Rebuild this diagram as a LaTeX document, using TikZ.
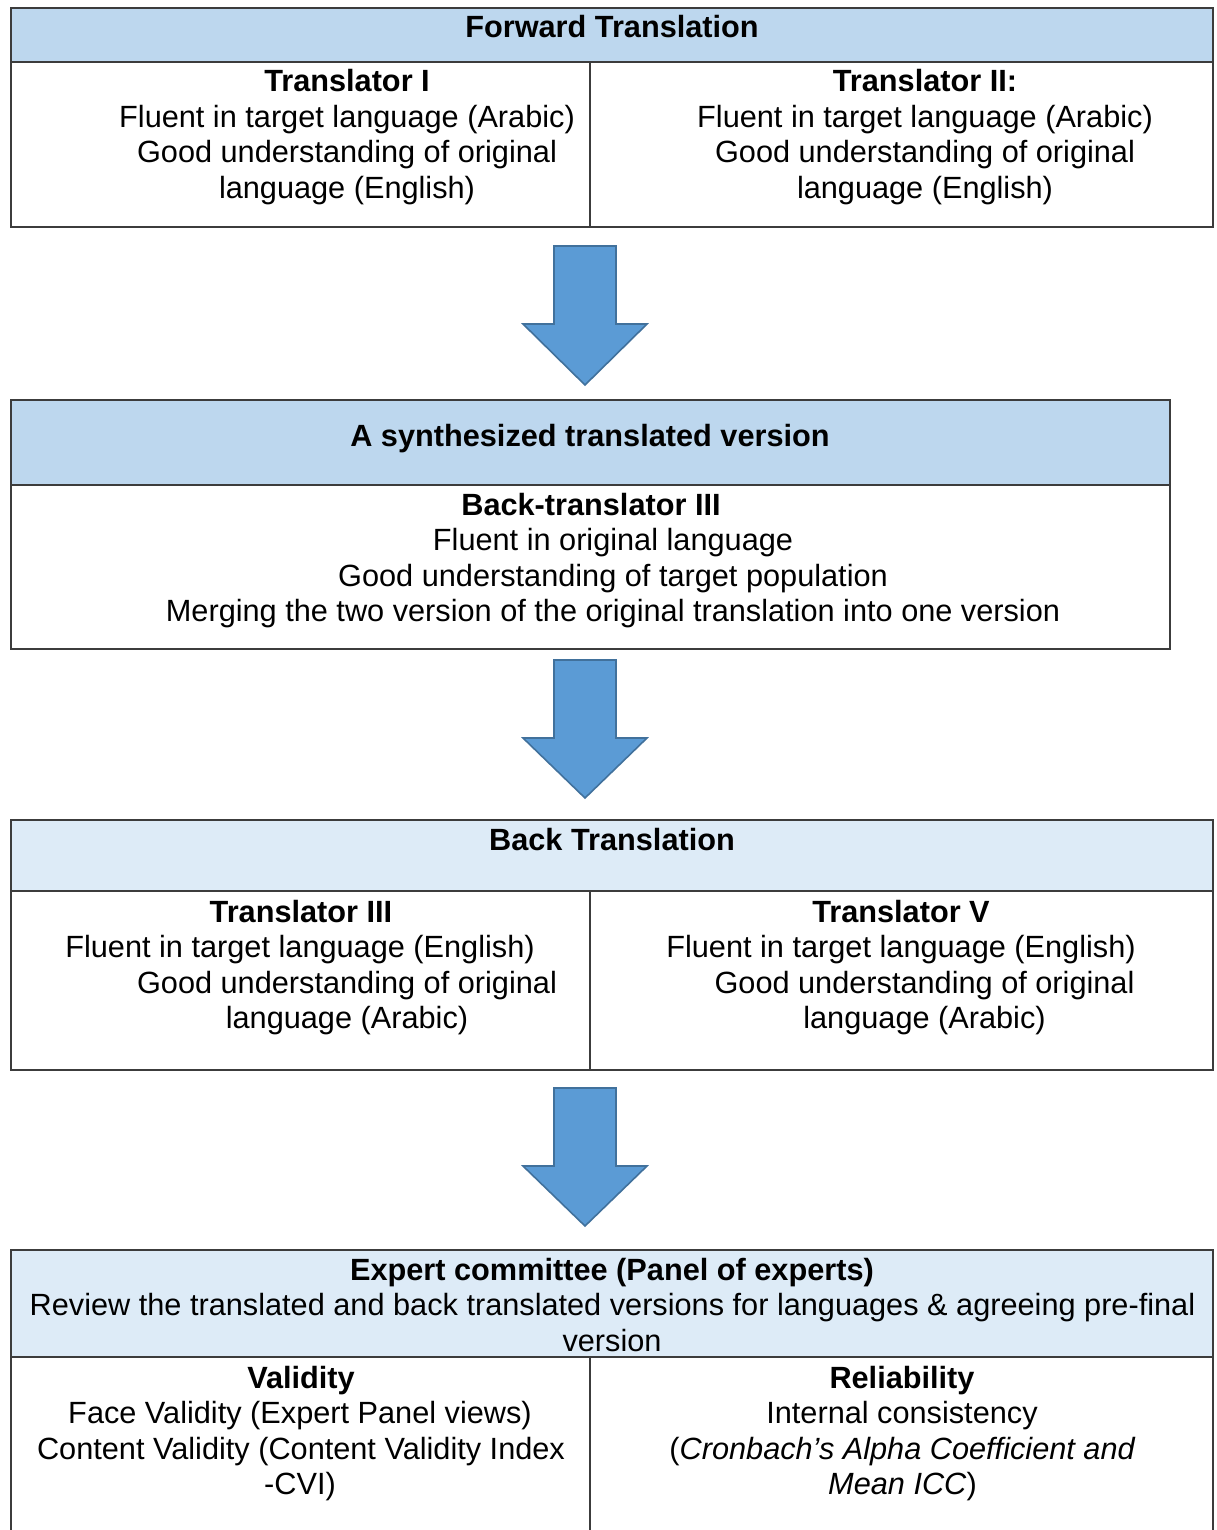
\documentclass[tikz,border=0pt]{standalone}
\usepackage{fontspec}
\setmainfont{Liberation Sans}
\definecolor{hdrdark}{RGB}{189,215,238}
\definecolor{hdrlight}{RGB}{221,235,247}
\definecolor{arrfill}{RGB}{91,155,213}
\definecolor{arrline}{RGB}{65,113,156}
\definecolor{boxline}{RGB}{60,60,60}
\tikzset{
  frame/.style={draw=boxline, line width=1.6pt},
  hdrA/.style={fill=hdrdark},
  hdrB/.style={fill=hdrlight},
  blockarr/.style={fill=arrfill, draw=arrline, line width=1.6pt, line join=miter},
  txt/.style={anchor=base, inner sep=0pt, font=\fontsize{30.7}{35.5}\selectfont},
  btxt/.style={anchor=base, inner sep=0pt, font=\fontsize{30.7}{35.5}\selectfont\bfseries},
}
\newcommand\myarrow[3]{%
  \draw[blockarr] (554,#1) -- (616,#1) -- (616,#2) -- (647,#2) -- (585,#3) -- (523,#2) -- (554,#2) -- cycle;}
\begin{document}
\begin{tikzpicture}[x=1pt, y=-1pt]
\clip (0,0) rectangle (1217,1530);
\fill[white] (0,0) rectangle (1217,1530);

% ---------- Box 1: Forward Translation ----------
\fill[hdrA] (11,8) rectangle (1213,62);
\draw[frame] (11,8) rectangle (1213,227);
\draw[frame] (11,62) -- (1213,62);
\draw[frame] (590,62) -- (590,227);
\node[btxt] (f0) at (612,38) {Forward Translation};
\node[btxt] (f1) at (347,92) {Translator I};
\node[txt]  (f2) at (347,127.5) {Fluent in target language (Arabic)};
\node[txt]  (f3) at (347,163) {Good understanding of original};
\node[txt]  (f4) at (347,198.5) {language (English)};
\node[btxt] (g1) at (925,92) {Translator II:};
\node[txt]  (g2) at (925,127.5) {Fluent in target language (Arabic)};
\node[txt]  (g3) at (925,163) {Good understanding of original};
\node[txt]  (g4) at (925,198.5) {language (English)};

\myarrow{246}{324}{385}

% ---------- Box 2: synthesized version ----------
\fill[hdrA] (11,400) rectangle (1170,485);
\draw[frame] (11,400) rectangle (1170,649);
\draw[frame] (11,485) -- (1170,485);
\node[btxt] (s0) at (590,446) {A synthesized translated version};
\node[btxt] (s1) at (591,515) {Back-translator III};
\node[txt]  (s2) at (613,550.5) {Fluent in original language};
\node[txt]  (s3) at (613,586) {Good understanding of target population};
\node[txt]  (s4) at (613,621.5) {Merging the two version of the original translation into one version};

\myarrow{660}{738}{798}

% ---------- Box 3: Back Translation ----------
\fill[hdrB] (11,820) rectangle (1213,891);
\draw[frame] (11,820) rectangle (1213,1070);
\draw[frame] (11,891) -- (1213,891);
\draw[frame] (590,891) -- (590,1070);
\node[btxt] (b0) at (612,850) {Back Translation};
\node[btxt] (b1) at (301,922) {Translator III};
\node[txt]  (b2) at (300,957.5) {Fluent in target language (English)};
\node[txt]  (b3) at (347,993) {Good understanding of original};
\node[txt]  (b4) at (347,1028.5) {language (Arabic)};
\node[btxt] (c1) at (901,922) {Translator V};
\node[txt]  (c2) at (901,957.5) {Fluent in target language (English)};
\node[txt]  (c3) at (924.5,993) {Good understanding of original};
\node[txt]  (c4) at (924.5,1028.5) {language (Arabic)};

\myarrow{1088}{1166}{1226}

% ---------- Box 4: Expert committee ----------
\fill[hdrB] (11,1250) rectangle (1213,1357);
\draw[frame] (11,1250) rectangle (1213,1545);
\draw[frame] (11,1357) -- (1213,1357);
\draw[frame] (590,1357) -- (590,1545);
\node[btxt] (e0) at (612,1280) {Expert committee (Panel of experts)};
\node[txt]  (e1) at (612.5,1315.5) {Review the translated and back translated versions for languages \& agreeing pre-final};
\node[txt]  (e2) at (612,1351) {version};
\node[btxt] (v1) at (301,1388) {Validity};
\node[txt]  (v2) at (300,1423.5) {Face Validity (Expert Panel views)};
\node[txt]  (v3) at (301,1459) {Content Validity (Content Validity Index};
\node[txt]  (v4) at (300,1494.5) {-CVI)};
\node[btxt] (r1) at (902,1388) {Reliability};
\node[txt]  (r2) at (902,1423.5) {Internal consistency};
\node[txt]  (r3) at (902.5,1459) {(\textit{Cronbach’s Alpha Coefficient and}};
\node[txt]  (r4) at (902.5,1494.5) {\textit{Mean ICC})};
\end{tikzpicture}
\end{document}
